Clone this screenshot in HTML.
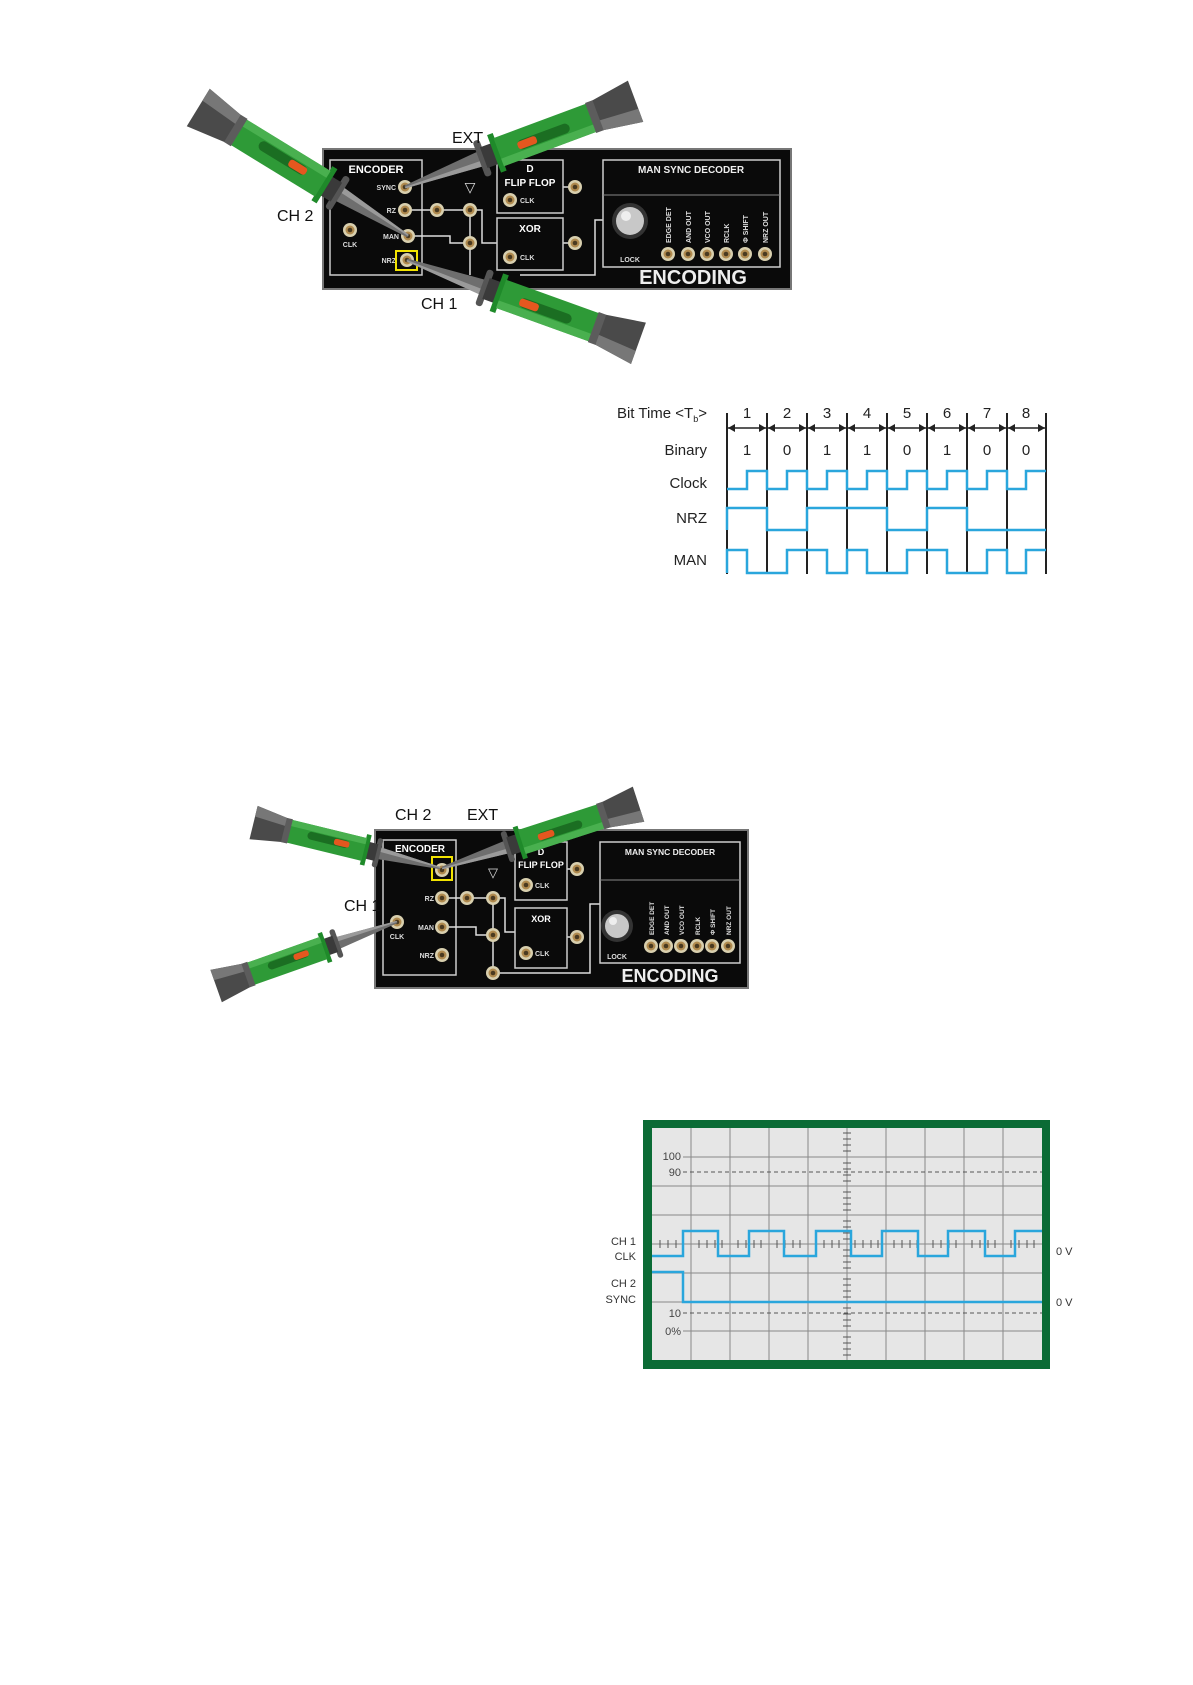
<!DOCTYPE html>
<html><head><meta charset="utf-8"><style>
html,body{margin:0;padding:0;background:#fff;}
svg{display:block;}
text{font-family:"Liberation Sans",sans-serif;}
</style></head><body>
<svg width="1193" height="1685" viewBox="0 0 1193 1685" xmlns="http://www.w3.org/2000/svg">
<defs>
  <g id="probe">
    <polygon points="0,-1.5 -82,-8 -82,8 0,1.5" fill="#6e6e6e"/>
    <polygon points="0,-1.5 -82,-8 -82,-2 0,0" fill="#9a9a9a"/>
    <rect x="-86" y="-19" width="7" height="38" rx="3" fill="#555"/>
    <rect x="-96" y="-11" width="12" height="22" fill="#3a3a3a"/>
    <rect x="-101" y="-20" width="6" height="40" fill="#1f8a2a"/>
    <rect x="-200" y="-15" width="100" height="30" fill="#2e9a37"/>
    <rect x="-200" y="-15" width="100" height="8" fill="#49b04f"/>
    <rect x="-175" y="-6" width="55" height="10" rx="5" fill="#1b6e22"/>
    <rect x="-140" y="-5" width="20" height="8" rx="3" fill="#e4571f"/>
    <polygon points="-200,-15 -246,-22 -246,22 -200,15" fill="#4a4a4a"/>
    <polygon points="-200,-15 -246,-22 -246,-8 -200,-5" fill="#777"/>
    <rect x="-206" y="-16" width="8" height="32" fill="#5c5c5c"/>
  </g>
  <g id="jack"><circle r="7" fill="#d8cfae"/><circle r="4.5" fill="#b08a4e"/><circle r="2.3" fill="#4a3a20"/></g>
</defs>

<!-- ===== PANEL 1 ===== -->
<rect x="323" y="149" width="468" height="140" fill="#0a0a0a" stroke="#777" stroke-width="2"/>
<rect x="330" y="160" width="92" height="115" fill="none" stroke="#ccc" stroke-width="1.5"/>
<text x="376" y="173" font-size="11" font-weight="bold" fill="#fff" text-anchor="middle">ENCODER</text>
<text x="396" y="190" font-size="7" font-weight="bold" fill="#ddd" text-anchor="end">SYNC</text>
<text x="396" y="213" font-size="7" font-weight="bold" fill="#ddd" text-anchor="end">RZ</text>
<text x="399" y="239" font-size="7" font-weight="bold" fill="#ddd" text-anchor="end">MAN</text>
<text x="396" y="263" font-size="7" font-weight="bold" fill="#ddd" text-anchor="end">NRZ</text>
<text x="350" y="247" font-size="7" font-weight="bold" fill="#ddd" text-anchor="middle">CLK</text>
<rect x="396" y="251" width="21" height="19" fill="none" stroke="#f2e300" stroke-width="2"/>
<path d="M405 210 H470 M470 210 V275 M408 236 H450 V243 H470 M470 210 H482 V243 H497 M575 187 H563 M575 243 H563 M520 275 H595 V220 H603" stroke="#ddd" stroke-width="1.5" fill="none" stroke-dasharray="none"/>
<text x="470" y="192" font-size="14" fill="#ddd" text-anchor="middle">▽</text>
<use href="#jack" x="405" y="187"/><use href="#jack" x="405" y="210"/><use href="#jack" x="408" y="236"/><use href="#jack" x="407" y="260"/>
<use href="#jack" x="350" y="230"/><use href="#jack" x="437" y="210"/><use href="#jack" x="470" y="210"/><use href="#jack" x="470" y="243"/>
<rect x="497" y="160" width="66" height="53" fill="none" stroke="#ccc" stroke-width="1.5"/>
<text x="530" y="172" font-size="10" font-weight="bold" fill="#fff" text-anchor="middle">D</text>
<text x="530" y="186" font-size="10" font-weight="bold" fill="#fff" text-anchor="middle">FLIP FLOP</text>
<use href="#jack" x="510" y="200"/><text x="520" y="203" font-size="7" font-weight="bold" fill="#ddd">CLK</text>
<use href="#jack" x="575" y="187"/>
<rect x="497" y="218" width="66" height="52" fill="none" stroke="#ccc" stroke-width="1.5"/>
<text x="530" y="232" font-size="10" font-weight="bold" fill="#fff" text-anchor="middle">XOR</text>
<use href="#jack" x="510" y="257"/><text x="520" y="260" font-size="7" font-weight="bold" fill="#ddd">CLK</text>
<use href="#jack" x="575" y="243"/>
<rect x="603" y="160" width="177" height="107" fill="none" stroke="#ccc" stroke-width="1.5"/>
<text x="691" y="173" font-size="10" font-weight="bold" fill="#eee" text-anchor="middle">MAN SYNC DECODER</text>
<line x1="603" y1="195" x2="780" y2="195" stroke="#888"/>
<circle cx="630" cy="221" r="18" fill="#333"/><circle cx="630" cy="221" r="14" fill="#c8c8c8"/><circle cx="626" cy="216" r="5" fill="#eee"/>
<text x="630" y="262" font-size="7" font-weight="bold" fill="#ddd" text-anchor="middle">LOCK</text>
<g font-size="7" font-weight="bold" fill="#ddd">
<text transform="translate(671,243) rotate(-90)">EDGE DET</text>
<text transform="translate(691,243) rotate(-90)">AND OUT</text>
<text transform="translate(710,243) rotate(-90)">VCO OUT</text>
<text transform="translate(729,243) rotate(-90)">RCLK</text>
<text transform="translate(748,243) rotate(-90)">Φ SHIFT</text>
<text transform="translate(768,243) rotate(-90)">NRZ OUT</text>
</g>
<use href="#jack" x="668" y="254"/><use href="#jack" x="688" y="254"/><use href="#jack" x="707" y="254"/><use href="#jack" x="726" y="254"/><use href="#jack" x="745" y="254"/><use href="#jack" x="765" y="254"/>
<text x="693" y="284" font-size="20" font-weight="bold" fill="#eee" text-anchor="middle">ENCODING</text>

<use href="#probe" transform="translate(408,236) rotate(31.5)"/>
<use href="#probe" transform="translate(405,187) rotate(159.6)"/>
<use href="#probe" transform="translate(407,260) rotate(199.8)"/>
<text x="452" y="143" font-size="16" fill="#111">EXT</text>
<text x="277" y="221" font-size="16" fill="#111">CH 2</text>
<text x="421" y="309" font-size="16" fill="#111">CH 1</text>

<!-- ===== TIMING ===== -->
<g font-size="15" fill="#222" text-anchor="end">
<text x="707" y="418">Bit Time &lt;T<tspan font-size="9" dy="4">b</tspan><tspan dy="-4">&gt;</tspan></text>
<text x="707" y="455">Binary</text>
<text x="707" y="488">Clock</text>
<text x="707" y="523">NRZ</text>
<text x="707" y="565">MAN</text>
</g>
<g stroke="#222" stroke-width="2">
<line x1="727" y1="413" x2="727" y2="574"/><line x1="767" y1="413" x2="767" y2="574"/><line x1="807" y1="413" x2="807" y2="574"/><line x1="847" y1="413" x2="847" y2="574"/><line x1="887" y1="413" x2="887" y2="574"/><line x1="927" y1="413" x2="927" y2="574"/><line x1="967" y1="413" x2="967" y2="574"/><line x1="1007" y1="413" x2="1007" y2="574"/><line x1="1046" y1="413" x2="1046" y2="574"/>
<line x1="727" y1="428" x2="1046" y2="428" stroke-width="1.5"/>
</g>
<g fill="#222">
<path d="M728 428 l7 -4 v8z M766 428 l-7 -4 v8z M768 428 l7 -4 v8z M806 428 l-7 -4 v8z M808 428 l7 -4 v8z M846 428 l-7 -4 v8z M848 428 l7 -4 v8z M886 428 l-7 -4 v8z M888 428 l7 -4 v8z M926 428 l-7 -4 v8z M928 428 l7 -4 v8z M966 428 l-7 -4 v8z M968 428 l7 -4 v8z M1006 428 l-7 -4 v8z M1008 428 l7 -4 v8z M1045 428 l-7 -4 v8z"/>
</g>
<g font-size="15" fill="#222" text-anchor="middle">
<text x="747" y="418">1</text><text x="787" y="418">2</text><text x="827" y="418">3</text><text x="867" y="418">4</text><text x="907" y="418">5</text><text x="947" y="418">6</text><text x="987" y="418">7</text><text x="1026" y="418">8</text>
<text x="747" y="455">1</text><text x="787" y="455">0</text><text x="827" y="455">1</text><text x="867" y="455">1</text><text x="907" y="455">0</text><text x="947" y="455">1</text><text x="987" y="455">0</text><text x="1026" y="455">0</text>
</g>
<g stroke="#2aa6dc" stroke-width="2.5" fill="none">
<path d="M727,489 H747 V471 H767 V489 H787 V471 H807 V489 H827 V471 H847 V489 H867 V471 H887 V489 H907 V471 H927 V489 H947 V471 H967 V489 H987 V471 H1007 V489 H1026 V471 H1046"/>
<path d="M727,530 V508 H767 V530 H807 V508 H887 V530 H927 V508 H967 V530 H1046"/>
<path d="M727,573 V550 H747 V573 H787 V550 H827 V573 H847 V550 H867 V573 H907 V550 H947 V573 H987 V550 H1007 V573 H1026 V550 H1046"/>
</g>

<!-- ===== PANEL 2 ===== -->
<rect x="375" y="830" width="373" height="158" fill="#0a0a0a" stroke="#777" stroke-width="2"/>
<rect x="383" y="840" width="73" height="135" fill="none" stroke="#ccc" stroke-width="1.5"/>
<text x="420" y="852" font-size="10" font-weight="bold" fill="#fff" text-anchor="middle">ENCODER</text>
<text x="434" y="901" font-size="7" font-weight="bold" fill="#ddd" text-anchor="end">RZ</text>
<text x="434" y="930" font-size="7" font-weight="bold" fill="#ddd" text-anchor="end">MAN</text>
<text x="434" y="958" font-size="7" font-weight="bold" fill="#ddd" text-anchor="end">NRZ</text>
<text x="397" y="939" font-size="7" font-weight="bold" fill="#ddd" text-anchor="middle">CLK</text>
<rect x="432" y="857" width="20" height="23" fill="none" stroke="#f2e300" stroke-width="2"/>
<path d="M442 898 H493 M493 898 V973 M442 927 H476 V935 H493 M493 898 H505 V932 H515 M577 869 H567 M577 937 H567 M500 973 H590 V904 H600" stroke="#ddd" stroke-width="1.5" fill="none"/>
<text x="493" y="877" font-size="13" fill="#ddd" text-anchor="middle">▽</text>
<use href="#jack" x="442" y="870"/><use href="#jack" x="442" y="898"/><use href="#jack" x="442" y="927"/><use href="#jack" x="442" y="955"/>
<use href="#jack" x="397" y="922"/><use href="#jack" x="467" y="898"/><use href="#jack" x="493" y="898"/><use href="#jack" x="493" y="935"/><use href="#jack" x="493" y="973"/>
<rect x="515" y="842" width="52" height="58" fill="none" stroke="#ccc" stroke-width="1.5"/>
<text x="541" y="855" font-size="9" font-weight="bold" fill="#fff" text-anchor="middle">D</text>
<text x="541" y="868" font-size="9" font-weight="bold" fill="#fff" text-anchor="middle">FLIP FLOP</text>
<use href="#jack" x="526" y="885"/><text x="535" y="888" font-size="7" font-weight="bold" fill="#ddd">CLK</text>
<use href="#jack" x="577" y="869"/>
<rect x="515" y="908" width="52" height="60" fill="none" stroke="#ccc" stroke-width="1.5"/>
<text x="541" y="922" font-size="9" font-weight="bold" fill="#fff" text-anchor="middle">XOR</text>
<use href="#jack" x="526" y="953"/><text x="535" y="956" font-size="7" font-weight="bold" fill="#ddd">CLK</text>
<use href="#jack" x="577" y="937"/>
<rect x="600" y="842" width="140" height="121" fill="none" stroke="#ccc" stroke-width="1.5"/>
<text x="670" y="855" font-size="8.5" font-weight="bold" fill="#eee" text-anchor="middle">MAN SYNC DECODER</text>
<line x1="600" y1="880" x2="740" y2="880" stroke="#888"/>
<circle cx="617" cy="926" r="16" fill="#333"/><circle cx="617" cy="926" r="12" fill="#c8c8c8"/><circle cx="613" cy="921" r="4" fill="#eee"/>
<text x="617" y="959" font-size="7" font-weight="bold" fill="#ddd" text-anchor="middle">LOCK</text>
<g font-size="6.5" font-weight="bold" fill="#ddd">
<text transform="translate(654,935) rotate(-90)">EDGE DET</text>
<text transform="translate(669,935) rotate(-90)">AND OUT</text>
<text transform="translate(684,935) rotate(-90)">VCO OUT</text>
<text transform="translate(700,935) rotate(-90)">RCLK</text>
<text transform="translate(715,935) rotate(-90)">Φ SHIFT</text>
<text transform="translate(731,935) rotate(-90)">NRZ OUT</text>
</g>
<use href="#jack" x="651" y="946"/><use href="#jack" x="666" y="946"/><use href="#jack" x="681" y="946"/><use href="#jack" x="697" y="946"/><use href="#jack" x="712" y="946"/><use href="#jack" x="728" y="946"/>
<text x="670" y="982" font-size="18" font-weight="bold" fill="#eee" text-anchor="middle">ENCODING</text>

<use href="#probe" transform="translate(440,868) rotate(13.7) scale(0.78)"/>
<use href="#probe" transform="translate(442,868) rotate(162) scale(0.84)"/>
<use href="#probe" transform="translate(397,922) rotate(-19.5) scale(0.78)"/>
<text x="395" y="820" font-size="16" fill="#111">CH 2</text>
<text x="467" y="820" font-size="16" fill="#111">EXT</text>
<text x="344" y="911" font-size="16" fill="#111">CH 1</text>

<!-- ===== SCOPE ===== -->
<rect x="643" y="1120" width="407" height="249" fill="#0b6b35"/>
<rect x="652" y="1128" width="390" height="232" fill="#e6e6e6"/>
<g stroke="#888" stroke-width="1">
<line x1="691" y1="1128" x2="691" y2="1360"/><line x1="730" y1="1128" x2="730" y2="1360"/><line x1="769" y1="1128" x2="769" y2="1360"/><line x1="808" y1="1128" x2="808" y2="1360"/><line x1="847" y1="1128" x2="847" y2="1360"/><line x1="886" y1="1128" x2="886" y2="1360"/><line x1="925" y1="1128" x2="925" y2="1360"/><line x1="964" y1="1128" x2="964" y2="1360"/><line x1="1003" y1="1128" x2="1003" y2="1360"/>
<line x1="691" y1="1157" x2="1042" y2="1157"/><line x1="652" y1="1186" x2="1042" y2="1186"/><line x1="652" y1="1215" x2="1042" y2="1215"/><line x1="652" y1="1244" x2="1042" y2="1244"/><line x1="652" y1="1273" x2="1042" y2="1273"/><line x1="652" y1="1302" x2="1042" y2="1302"/><line x1="683" y1="1331" x2="1042" y2="1331"/>
<line x1="683" y1="1157" x2="691" y2="1157"/>
</g>
<g stroke="#555" stroke-width="1">
<path d="M843 1133 h8 M843 1139 h8 M843 1145 h8 M843 1151 h8 M843 1163 h8 M843 1169 h8 M843 1175 h8 M843 1181 h8 M843 1192 h8 M843 1198 h8 M843 1204 h8 M843 1210 h8 M843 1221 h8 M843 1227 h8 M843 1233 h8 M843 1239 h8 M843 1250 h8 M843 1256 h8 M843 1262 h8 M843 1268 h8 M843 1279 h8 M843 1285 h8 M843 1291 h8 M843 1297 h8 M843 1308 h8 M843 1314 h8 M843 1320 h8 M843 1326 h8 M843 1337 h8 M843 1343 h8 M843 1349 h8 M843 1355 h8"/>
<path d="M660 1240 v8 M668 1240 v8 M676 1240 v8 M699 1240 v8 M707 1240 v8 M715 1240 v8 M722 1240 v8 M738 1240 v8 M746 1240 v8 M754 1240 v8 M761 1240 v8 M777 1240 v8 M785 1240 v8 M793 1240 v8 M800 1240 v8 M816 1240 v8 M824 1240 v8 M832 1240 v8 M839 1240 v8 M855 1240 v8 M863 1240 v8 M871 1240 v8 M878 1240 v8 M894 1240 v8 M902 1240 v8 M910 1240 v8 M917 1240 v8 M933 1240 v8 M941 1240 v8 M949 1240 v8 M956 1240 v8 M972 1240 v8 M980 1240 v8 M988 1240 v8 M995 1240 v8 M1011 1240 v8 M1019 1240 v8 M1027 1240 v8 M1034 1240 v8"/>
</g>
<g stroke="#555" stroke-width="1" stroke-dasharray="4,3">
<line x1="683" y1="1172" x2="1042" y2="1172"/><line x1="683" y1="1313" x2="1042" y2="1313"/>
</g>
<g font-size="11" fill="#444" text-anchor="end">
<text x="681" y="1160">100</text><text x="681" y="1176">90</text><text x="681" y="1317">10</text><text x="681" y="1335">0%</text>
</g>
<g stroke="#2aa6dc" stroke-width="2.5" fill="none">
<path d="M652,1256 H683 V1231 H718 V1256 H749 V1231 H784 V1256 H816 V1231 H851 V1256 H882 V1231 H918 V1256 H948 V1231 H985 V1256 H1015 V1231 H1042"/>
<path d="M652,1272 H683 V1302 H1042"/>
</g>
<g font-size="11" fill="#333">
<text x="636" y="1245" text-anchor="end">CH 1</text><text x="636" y="1260" text-anchor="end">CLK</text>
<text x="636" y="1287" text-anchor="end">CH 2</text><text x="636" y="1303" text-anchor="end">SYNC</text>
<text x="1056" y="1255">0 V</text><text x="1056" y="1306">0 V</text>
</g>
</svg>
</body></html>
